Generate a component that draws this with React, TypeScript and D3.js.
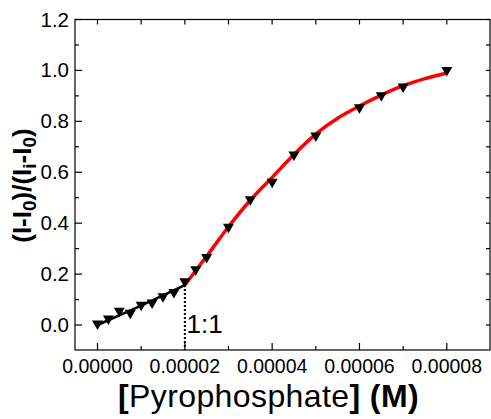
import React from "react";
import * as d3 from "d3";

const blackX = [0, 2.5e-6, 5e-6, 7.5e-6, 1e-5, 1.25e-5, 1.5e-5, 1.75e-5, 2e-5];
const blackY = [0.0, 0.02, 0.05, 0.042, 0.074, 0.082, 0.107, 0.124, 0.166];
const redX = [2.25e-5, 2.5e-5, 3e-5, 3.5e-5, 4e-5, 4.5e-5, 5e-5, 6e-5, 6.5e-5, 7e-5, 8e-5];
const redY = [0.213, 0.261, 0.38, 0.488, 0.557, 0.664, 0.738, 0.849, 0.897, 0.931, 0.996];
const linearFitX = [0, 1e-5, 2e-5];
const linearFitY = [0, 0.076, 0.157];
const curveFitX = [2e-5, 2.5e-5, 3e-5, 3.5e-5, 4e-5, 4.5e-5, 5e-5, 5.5e-5, 6e-5, 6.5e-5, 7e-5, 7.5e-5, 8e-5];
const curveFitY = [0.157, 0.27, 0.386, 0.49, 0.58, 0.67, 0.75, 0.812, 0.86, 0.903, 0.94, 0.968, 0.99];
const xMajor = [0, 2e-5, 4e-5, 6e-5, 8e-5];
const xMinor = [1e-5, 3e-5, 5e-5, 7e-5];
const yMajor = [0, 0.2, 0.4, 0.6, 0.8, 1.0, 1.2];
const yMinor = [0.1, 0.3, 0.5, 0.7, 0.9, 1.1];
const equivX = 2e-5;
const equivY = 0.157;

const W = 491, H = 419;
const L = 75, R = 490, T = 19.5, B = 350;
const FONT = "'Liberation Sans', Arial, Helvetica, sans-serif";

export default function App() {
  const x = d3.scaleLinear().domain([0, 8e-5]).range([97.5, 446.8]);
  const y = d3.scaleLinear().domain([0, 1.2]).range([325, 19.5]);
  const fx = d3.format(".5f");
  const fy = d3.format(".1f");

  const lineLin = d3.line<number>().x((d) => x(linearFitX[d])).y((d) => y(linearFitY[d]));
  const lineCurve = d3
    .line<number>()
    .x((d) => x(curveFitX[d]))
    .y((d) => y(curveFitY[d]))
    .curve(d3.curveMonotoneX);

  const tri = "M-5.5,-4.5 L5.5,-4.5 L0,5 Z";
  const pts = [
    ...blackX.map((v, i) => [v, blackY[i]]),
    ...redX.map((v, i) => [v, redY[i]]),
  ];

  return (
    <svg width={W} height={H} style={{ position: "absolute", left: 0, top: 0, background: "#fff" }} fontFamily={FONT}>
      <rect x={0} y={0} width={W} height={H} fill="#fff" />
      <rect x={L} y={T} width={R - L} height={B - T} fill="none" stroke="#000" strokeWidth={1.2} />
      {xMajor.map((v) => (
        <g key={"xm" + v}>
          <line x1={x(v)} x2={x(v)} y1={B} y2={B - 7} stroke="#000" strokeWidth={1.2} />
          <line x1={x(v)} x2={x(v)} y1={T} y2={T + 5} stroke="#000" strokeWidth={1.2} />
          <text x={x(v)} y={373} textAnchor="middle" fontSize={19.5} fill="#000">
            {fx(v)}
          </text>
        </g>
      ))}
      {xMinor.map((v) => (
        <g key={"xn" + v}>
          <line x1={x(v)} x2={x(v)} y1={B} y2={B - 4} stroke="#000" strokeWidth={1.2} />
          <line x1={x(v)} x2={x(v)} y1={T} y2={T + 5} stroke="#000" strokeWidth={1.2} />
        </g>
      ))}
      {yMajor.map((v) => (
        <g key={"ym" + v}>
          <line x1={L} x2={L + 7} y1={y(v)} y2={y(v)} stroke="#000" strokeWidth={1.2} />
          <line x1={R} x2={R - 4} y1={y(v)} y2={y(v)} stroke="#000" strokeWidth={1.2} />
          <text x={69} y={y(v) + 7} textAnchor="end" fontSize={20.5} fill="#000">
            {fy(v)}
          </text>
        </g>
      ))}
      {yMinor.map((v) => (
        <g key={"yn" + v}>
          <line x1={L} x2={L + 4} y1={y(v)} y2={y(v)} stroke="#000" strokeWidth={1.2} />
          <line x1={R} x2={R - 4} y1={y(v)} y2={y(v)} stroke="#000" strokeWidth={1.2} />
        </g>
      ))}
      <line x1={x(equivX)} x2={x(equivX)} y1={y(equivY)} y2={B} stroke="#000" strokeWidth={2} strokeDasharray="2,2" />
      <text x={186.5} y={333} fontSize={26} fill="#000">1:1</text>
      <path d={lineLin(d3.range(linearFitX.length)) || ""} fill="none" stroke="#000" strokeWidth={2.5} />
      <path d={lineCurve(d3.range(curveFitX.length)) || ""} fill="none" stroke="#ff0000" strokeWidth={3.5} />
      {pts.map(([px, py], i) => (
        <path key={"p" + i} d={tri} transform={`translate(${x(px)},${y(py)})`} fill="#000" />
      ))}
      <text x={268.5} y={407} textAnchor="middle" fontSize={32} letterSpacing={0.4} fill="#000">
        <tspan fontWeight="bold">[</tspan>
        <tspan>Pyrophosphate</tspan>
        <tspan fontWeight="bold">] (M)</tspan>
      </text>
      <text transform="translate(31,185.5) rotate(-90)" textAnchor="middle" fontSize={26} fontWeight="bold" fill="#000">
        <tspan>(I-I</tspan>
        <tspan fontSize={19} dy={5}>0</tspan>
        <tspan dy={-5}>)/(I</tspan>
        <tspan fontSize={19} dy={5}>i</tspan>
        <tspan dy={-5}>-I</tspan>
        <tspan fontSize={19} dy={5}>0</tspan>
        <tspan dy={-5}>)</tspan>
      </text>
    </svg>
  );
}
